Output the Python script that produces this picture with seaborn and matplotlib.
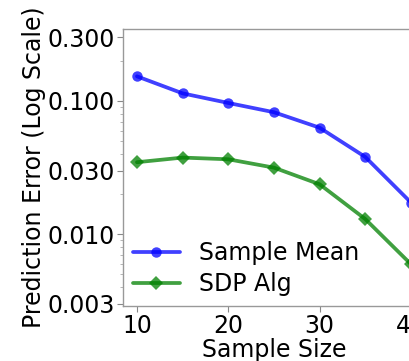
import matplotlib
matplotlib.use("Agg")
import matplotlib.pyplot as plt
import matplotlib.ticker as mticker
import seaborn as sns

sample_size = [10, 15, 20, 25, 30, 35, 40]
sample_mean = [0.153, 0.114, 0.0966, 0.0823, 0.063, 0.038, 0.0173]
sdp_alg = [0.0347, 0.0376, 0.0365, 0.0316, 0.0237, 0.0130, 0.00596]
y_ticks = [0.003, 0.010, 0.030, 0.100, 0.300]
x_ticks = [10, 20, 30, 40]

sns.set_style("ticks")
plt.rcParams['font.family'] = ['DejaVu Sans']
plt.rcParams['text.color'] = 'black'
plt.rcParams['axes.labelcolor'] = 'black'
plt.rcParams['xtick.color'] = 'black'
plt.rcParams['ytick.color'] = 'black'

FS = 17

fig = plt.figure(figsize=(4.10, 3.61), dpi=100)
ax = fig.add_axes([0.3007, 0.1532, 0.735, 0.7665])

sns.lineplot(x=sample_size, y=sample_mean, ax=ax, color=(0, 0, 1), alpha=0.75,
             marker='o', markersize=7.5, linewidth=2.7, markeredgewidth=0,
             label='Sample Mean')
sns.lineplot(x=sample_size, y=sdp_alg, ax=ax, color=(0, 0.5, 0), alpha=0.75,
             marker='D', markersize=7, linewidth=2.7, markeredgewidth=0,
             label='SDP Alg')

ax.set_yscale('log')
ax.set_ylim(0.00291, 0.3467)
ax.set_xlim(8.5, 41.5)
ax.yaxis.set_major_locator(mticker.FixedLocator(y_ticks))
ax.yaxis.set_major_formatter(mticker.FormatStrFormatter('%.3f'))
ax.yaxis.set_minor_locator(mticker.LogLocator(base=10, subs=range(2, 10)))
ax.yaxis.set_minor_formatter(mticker.NullFormatter())
ax.set_xticks(x_ticks)

ax.tick_params(axis='both', which='major', labelsize=FS, length=4, color='#888888', pad=2)
ax.tick_params(axis='y', which='minor', length=2, color='#aaaaaa')
for sp in ax.spines.values():
    sp.set_color('#999999')
    sp.set_linewidth(1.0)

ax.set_xlabel('Sample Size', fontsize=FS, labelpad=0)
ax.set_ylabel('Prediction Error (Log Scale)', fontsize=FS, labelpad=1)

leg = ax.legend(loc='lower left', frameon=False, fontsize=FS,
                handlelength=2.0, borderaxespad=0.0, labelspacing=0.3,
                handletextpad=0.8)

fig.savefig('out.png', dpi=100)
